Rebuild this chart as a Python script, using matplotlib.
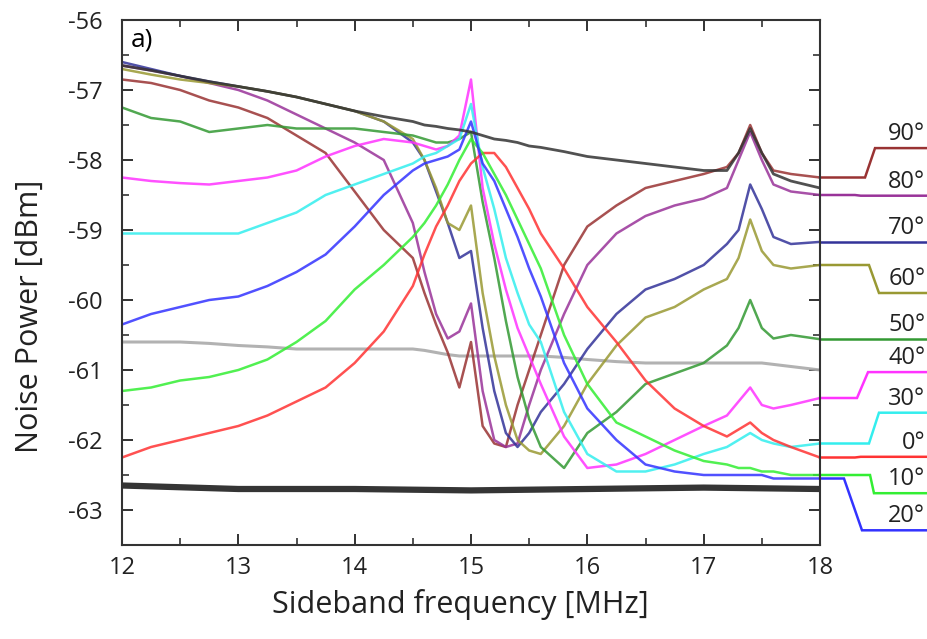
import matplotlib
matplotlib.use("Agg")
import matplotlib.pyplot as plt
from matplotlib.ticker import MultipleLocator

plt.rcParams['font.family'] = ['Open Sans', 'DejaVu Sans']

# ---------------- data ----------------
freq = [12.0, 12.25, 12.5, 12.75, 13.0, 13.25, 13.5, 13.75, 14.0, 14.25,
        14.5, 14.6, 14.7, 14.8, 14.9, 15.0, 15.1, 15.2, 15.3, 15.4,
        15.5, 15.6, 15.8, 16.0, 16.25, 16.5, 16.75, 17.0, 17.2, 17.3,
        17.4, 17.5, 17.6, 17.75, 18.0]

p0 = [-62.25, -62.1, -62.0, -61.9, -61.8, -61.65, -61.45, -61.25, -60.9, -60.45,
      -59.8, -59.35, -58.95, -58.65, -58.3, -58.05, -57.9, -57.9, -58.1, -58.4,
      -58.7, -59.05, -59.55, -60.1, -60.6, -61.15, -61.55, -61.8, -61.95, -61.85,
      -61.75, -61.9, -62.0, -62.1, -62.25]
p10 = [-61.3, -61.25, -61.15, -61.1, -61.0, -60.85, -60.6, -60.3, -59.85, -59.5,
       -59.1, -58.9, -58.65, -58.35, -58.0, -57.7, -57.9, -58.2, -58.5, -58.85,
       -59.2, -59.55, -60.5, -61.2, -61.75, -61.95, -62.15, -62.3, -62.35, -62.4,
       -62.4, -62.45, -62.45, -62.5, -62.5]
p20 = [-60.35, -60.2, -60.1, -60.0, -59.95, -59.8, -59.6, -59.35, -58.95, -58.5,
       -58.15, -58.05, -58.0, -57.95, -57.85, -57.45, -58.05, -58.3, -58.7, -59.1,
       -59.55, -59.95, -60.9, -61.55, -62.0, -62.35, -62.45, -62.5, -62.5, -62.5,
       -62.5, -62.5, -62.55, -62.55, -62.55]
p30 = [-59.05, -59.05, -59.05, -59.05, -59.05, -58.9, -58.75, -58.5, -58.35, -58.2,
       -58.05, -57.95, -57.9, -57.8, -57.7, -57.2, -58.1, -58.7, -59.4, -59.9,
       -60.35, -60.6, -61.6, -62.2, -62.45, -62.45, -62.35, -62.2, -62.1, -62.0,
       -61.9, -62.0, -62.05, -62.1, -62.05]
p40 = [-58.25, -58.3, -58.33, -58.35, -58.3, -58.25, -58.15, -57.95, -57.8, -57.7,
       -57.75, -57.8, -57.85, -57.8, -57.65, -56.85, -58.4, -59.2, -59.85, -60.4,
       -60.8, -61.2, -61.95, -62.4, -62.35, -62.2, -62.0, -61.8, -61.65, -61.45,
       -61.25, -61.5, -61.55, -61.5, -61.4]
p50 = [-57.25, -57.4, -57.45, -57.6, -57.55, -57.5, -57.55, -57.55, -57.55, -57.6,
       -57.65, -57.7, -57.75, -57.75, -57.7, -57.6, -58.6, -59.4, -60.3, -61.1,
       -61.7, -62.1, -62.4, -61.9, -61.6, -61.2, -61.05, -60.9, -60.65, -60.4,
       -60.0, -60.4, -60.55, -60.5, -60.56]
p60 = [-56.7, -56.78, -56.85, -56.9, -56.95, -57.02, -57.1, -57.2, -57.3, -57.45,
       -57.7, -58.0, -58.4, -58.9, -59.0, -58.65, -59.9, -60.8, -61.5, -62.0,
       -62.15, -62.2, -61.8, -61.2, -60.65, -60.25, -60.1, -59.85, -59.7, -59.4,
       -58.85, -59.3, -59.5, -59.55, -59.5]
p70 = [-56.6, -56.7, -56.8, -56.88, -56.95, -57.02, -57.1, -57.2, -57.3, -57.45,
       -57.75, -58.0, -58.45, -58.9, -59.4, -59.3, -60.4, -61.3, -61.9, -62.1,
       -61.9, -61.6, -61.2, -60.7, -60.2, -59.85, -59.7, -59.5, -59.2, -59.0,
       -58.35, -58.7, -59.1, -59.2, -59.17]
p80 = [-56.65, -56.72, -56.8, -56.9, -57.0, -57.15, -57.35, -57.55, -57.75, -58.0,
       -58.9, -59.6, -60.2, -60.55, -60.45, -60.05, -61.3, -62.0, -62.1, -62.05,
       -61.5, -61.0, -60.2, -59.5, -59.05, -58.8, -58.65, -58.55, -58.4, -58.0,
       -57.6, -58.0, -58.35, -58.45, -58.5]
p90 = [-56.85, -56.9, -57.0, -57.15, -57.25, -57.4, -57.65, -57.9, -58.45, -59.0,
       -59.4, -59.9, -60.35, -60.75, -61.25, -60.6, -61.8, -62.05, -62.1, -61.5,
       -61.0, -60.5, -59.5, -58.95, -58.65, -58.4, -58.3, -58.2, -58.1, -57.9,
       -57.5, -57.9, -58.15, -58.2, -58.25]
dark_trace = [-56.65, -56.72, -56.8, -56.88, -56.95, -57.02, -57.1, -57.2, -57.3, -57.38,
              -57.45, -57.5, -57.52, -57.55, -57.57, -57.6, -57.65, -57.7, -57.72, -57.75,
              -57.8, -57.82, -57.88, -57.95, -58.0, -58.05, -58.1, -58.15, -58.15, -57.9,
              -57.55, -57.9, -58.2, -58.3, -58.4]
gray_trace = [-60.6, -60.6, -60.6, -60.62, -60.65, -60.67, -60.7, -60.7, -60.7, -60.7,
              -60.7, -60.72, -60.75, -60.78, -60.8, -60.8, -60.8, -60.8, -60.8, -60.8,
              -60.8, -60.8, -60.82, -60.85, -60.88, -60.9, -60.9, -60.9, -60.9, -60.9,
              -60.9, -60.9, -60.92, -60.95, -61.0]
freq_black = [12, 13, 14, 15, 16, 17, 18]
black_trace = [-62.65, -62.7, -62.7, -62.72, -62.7, -62.68, -62.7]

angles = ["90", "80", "70", "60", "50", "40", "30", "0", "10", "20"]
series = [p90, p80, p70, p60, p50, p40, p30, p0, p10, p20]
colors = ["#993333", "#993399", "#333399", "#999933", "#339933",
          "#FF33FF", "#33EEEE", "#FF3333", "#33EE33", "#3333FF"]
# label levels (y of the label line at the right margin)
label_levels = [-57.83, -58.51, -59.17, -59.9, -60.56, -61.03, -61.61, -62.24, -62.76, -63.29]
# x of the connector bends (start, end)
bend_x = [(18.387, 18.473), (18.3, 18.35), (18.3, 18.35), (18.421, 18.507), (18.3, 18.35),
          (18.318, 18.413), (18.421, 18.507), (18.3, 18.35), (18.43, 18.464), (18.206, 18.361)]

# ---------------- figure ----------------
fig = plt.figure(figsize=(9.27, 6.39), dpi=100)
ax = fig.add_axes([122/927, 1-545/639, (820-122)/927, (545-20)/639])

ax.plot(freq, gray_trace, color="#AAAAAA", lw=2.2, alpha=0.9)
for s, c in zip(series, colors):
    ax.plot(freq, s, color=c, lw=1.8, alpha=0.85)
ax.plot(freq, dark_trace, color="#333333", lw=2.0, alpha=0.85)
ax.plot(freq_black, black_trace, color="#111111", lw=4.5, alpha=0.85)

ax.set_xlim(12, 18)
ax.set_ylim(-63.5, -56)
ax.xaxis.set_major_locator(MultipleLocator(1))
ax.xaxis.set_minor_locator(MultipleLocator(0.5))
ax.yaxis.set_major_locator(MultipleLocator(1))
ax.yaxis.set_minor_locator(MultipleLocator(0.5))
ax.tick_params(which="both", direction="in", top=True, right=True, colors="#222222")
ax.tick_params(which="major", length=8, width=1.3, labelsize=17)
ax.tick_params(which="minor", length=5, width=1.1)
ax.tick_params(axis="y", pad=14)
ax.tick_params(axis="x", pad=8)
for sp in ax.spines.values():
    sp.set_linewidth(1.5)
    sp.set_color("#333333")

ax.set_yticks([-63, -62, -61, -60, -59, -58, -57, -56])
ax.set_yticklabels(["-63", "-62", "-61", "-60", "-59", "-58", "-57", "-56"])

fig.text(460/927, 1-605/639, "Sideband frequency [MHz]", fontsize=22,
         ha="center", va="center", color="#222222")
fig.text(30/927, 1-316/639, "Noise Power [dBm]", fontsize=22, rotation=90,
         ha="center", va="center", color="#222222")
ax.text(0.012, 0.985, "a)", transform=ax.transAxes, fontsize=19, va="top", ha="left")

# right-hand labels with connectors
x_end = 18.92
for s, c, lev, (b1, b2), a in zip(series, colors, label_levels, bend_x, angles):
    y0 = s[-1]
    ax.plot([18.0, b1, b2, x_end], [y0, y0, lev, lev], color=c, lw=1.8,
            clip_on=False, solid_joinstyle="miter")
    ax.text(18.905, lev + 0.03, a + "°", fontsize=17, ha="right", va="bottom",
            color="#222222", clip_on=False)

fig.savefig("out.png", dpi=100)
